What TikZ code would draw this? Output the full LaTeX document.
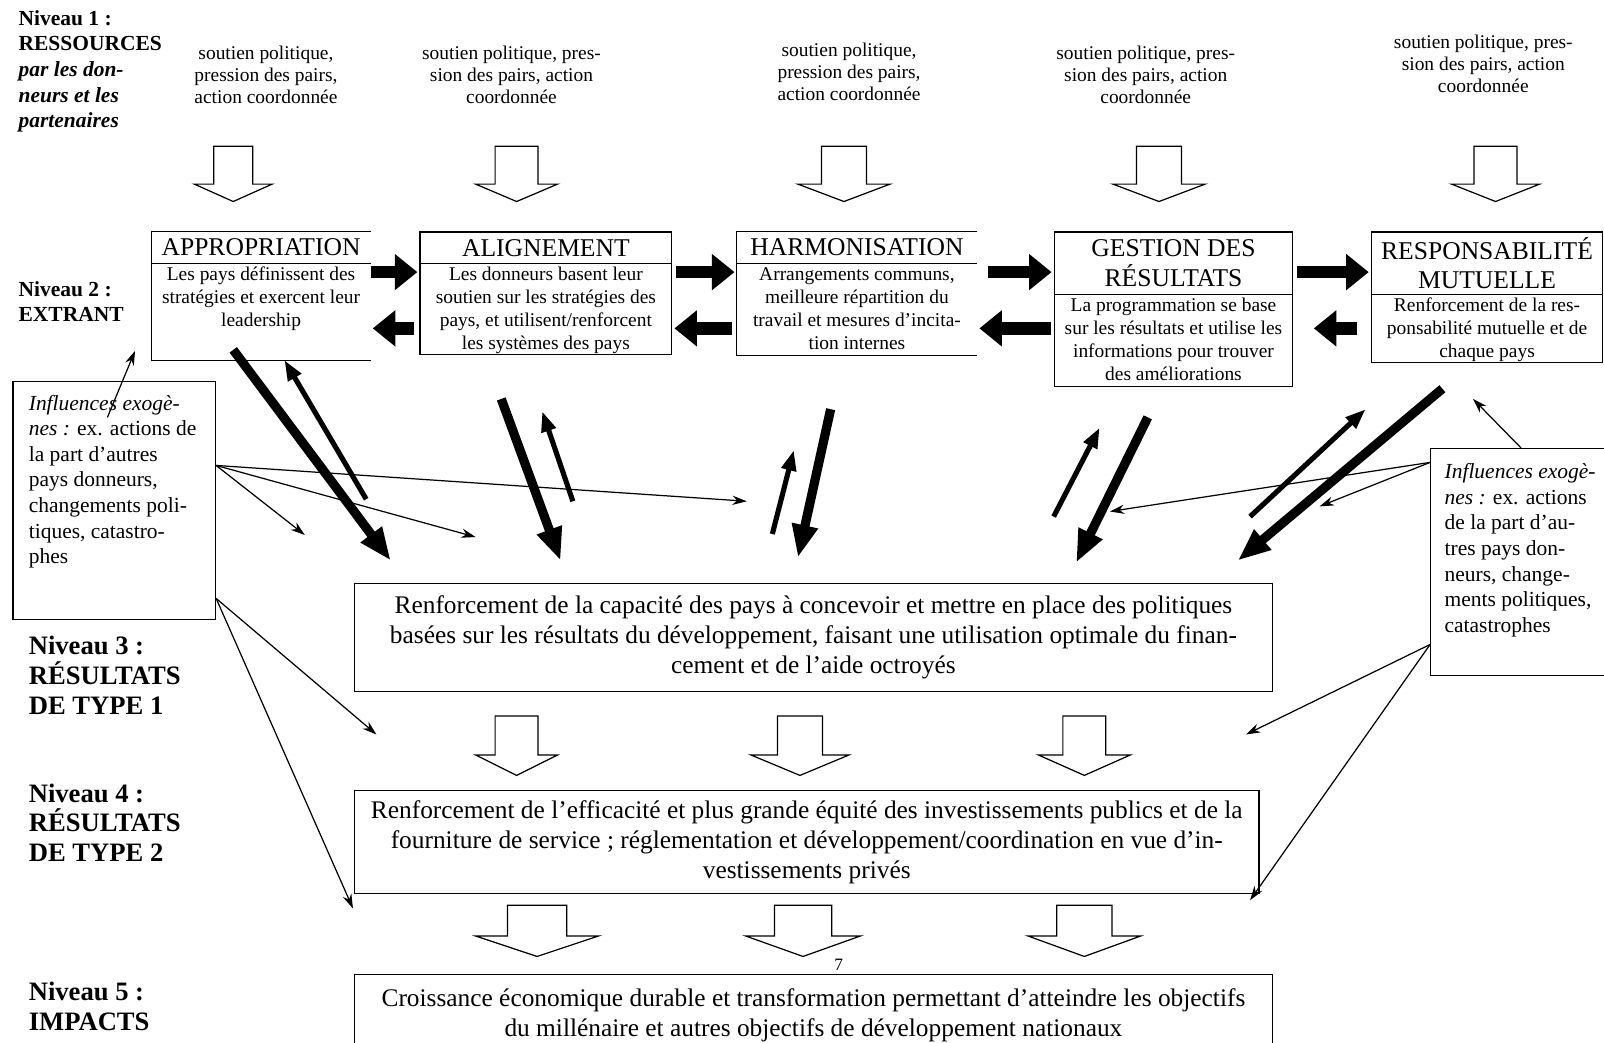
\documentclass[tikz,border=0pt]{standalone}
\usepackage{fontspec}
\setmainfont{Liberation Serif}
\usetikzlibrary{arrows.meta}

\begin{document}
\begin{tikzpicture}[x=1pt,y=-1pt,
  frame/.style={draw,line width=1.3pt,inner sep=0pt,anchor=north west},
  cadre/.style={inner sep=0pt,anchor=north west},
  hdr/.style={font=\fontsize{25}{29}\selectfont,align=center},
  corps/.style={font=\fontsize{19}{22.5}\selectfont,align=center,inner sep=0pt,anchor=north},
  soutien/.style={font=\fontsize{19}{21.5}\selectfont,align=center,inner sep=0pt},
  niveau/.style={font=\bfseries\fontsize{21}{25}\selectfont,align=left,inner sep=0pt,anchor=north west},
  grandniveau/.style={font=\bfseries\fontsize{26}{29}\selectfont,align=left,inner sep=0pt,anchor=north west},
  resultat/.style={font=\fontsize{24.8}{29.5}\selectfont,align=center},
  influ/.style={font=\fontsize{21}{25}\selectfont,align=left,inner sep=0pt,anchor=north west},
  creux/.style={draw,line width=1.2pt,fill=white},
  pleine/.style={line width=12pt,-{Triangle[length=22pt,width=34pt]}},
  epaisse/.style={line width=9pt,-{Triangle[length=32pt,width=24pt]}},
  mince/.style={line width=5pt,-{Triangle[length=20pt,width=14pt]}},
  fine/.style={line width=1.2pt,-{Stealth[length=14pt,width=9pt]}}]
\useasboundingbox (0,0) rectangle (1568,1019);

% niveaux
\node[niveau] (n1) at (18,10) {Niveau 1 :\\RESSOURCES\\\textit{par les don-}\\\textit{neurs et les}\\\textit{partenaires}};
\node[niveau] (n2) at (18,275) {Niveau 2 :\\EXTRANT};
\node[grandniveau] (n3) at (28,622) {Niveau 3 :\\RÉSULTATS\\DE TYPE 1};
\node[grandniveau] (n4) at (28,766) {Niveau 4 :\\RÉSULTATS\\DE TYPE 2};
\node[grandniveau] (n5) at (28,960) {Niveau 5 :\\IMPACTS};

% ressources
\node[soutien] (s1) at (260,73) {soutien politique,\\pression des pairs,\\action coordonnée};
\node[soutien] (s2) at (500,73) {soutien politique, pres-\\sion des pairs, action\\coordonnée};
\node[soutien] (s3) at (830,70) {soutien politique,\\pression des pairs,\\action coordonnée};
\node[soutien] (s4) at (1120,73) {soutien politique, pres-\\sion des pairs, action\\coordonnée};
\node[soutien] (s5) at (1450,62) {soutien politique, pres-\\sion des pairs, action\\coordonnée};

\foreach \cx/\sw/\hw/\ty/\hb/\tp in {228/19/38/143/180/197, 505/21/40/143/180/197,
    825/22/45/143/180/197, 1133/22/45/143/180/197, 1462/21/43/143/180/197,
    505/21/40/700/738/758, 782/22/48/700/738/758, 1060/21/45/700/738/758,
    525/29/60/885/915/935, 785/28/56/885/915/935, 1060/27/55/885/915/935}
  \draw[creux] (\cx-\sw,\ty) -- (\cx+\sw,\ty) -- (\cx+\sw,\hb) -- (\cx+\hw,\hb)
    -- (\cx,\tp) -- (\cx-\hw,\hb) -- (\cx-\sw,\hb) -- cycle;

% extrants
\node[cadre,hdr,minimum width=214pt,minimum height=31pt] (approH) at (148,226) {APPROPRIATION};
\node[cadre,minimum width=214pt,minimum height=95pt] (approB) at (148,257) {};
\draw[line width=1.3pt] (approH.north east) -- (approH.north west) -- (approB.south west) -- (approB.south east);
\draw[line width=1.3pt] (approH.south west) -- (approH.south east);
\node[corps] (approT) at ([yshift=-4pt]approB.north) {Les pays définissent des\\stratégies et exercent leur\\leadership};

\node[frame,hdr,minimum width=246pt,minimum height=31pt] (alignH) at (410,226) {ALIGNEMENT};
\node[frame,minimum width=246pt,minimum height=89pt] (alignB) at (410,257) {};
\node[corps] (alignT) at ([yshift=-4pt]alignB.north) {Les donneurs basent leur\\soutien sur les stratégies des\\pays, et utilisent/renforcent\\les systèmes des pays};

\node[cadre,hdr,minimum width=235pt,minimum height=31pt] (harmoH) at (720,226) {HARMONISATION};
\node[cadre,minimum width=235pt,minimum height=90pt] (harmoB) at (720,257) {};
\draw[line width=1.3pt] (harmoH.north east) -- (harmoH.north west) -- (harmoB.south west) -- (harmoB.south east);
\draw[line width=1.3pt] (harmoH.south west) -- (harmoH.south east);
\node[corps] (harmoT) at ([yshift=-4pt]harmoB.north) {Arrangements communs,\\meilleure répartition du\\travail et mesures d'incita-\\tion internes};

\node[frame,hdr,minimum width=233pt,minimum height=61pt] (gestH) at (1030,226) {GESTION DES\\RÉSULTATS};
\node[frame,minimum width=233pt,minimum height=90pt] (gestB) at (1030,287) {};
\node[corps] (gestT) at ([yshift=-4pt]gestB.north) {La programmation se base\\sur les résultats et utilise les\\informations pour trouver\\des améliorations};

\node[frame,hdr,minimum width=226pt,minimum height=61pt] (respH) at (1340,226) {RESPONSABILITÉ\\MUTUELLE};
\node[frame,minimum width=226pt,minimum height=67pt] (respB) at (1340,287) {};
\node[corps] (respT) at ([yshift=-4pt]respB.north) {Renforcement de la res-\\ponsabilité mutuelle et de\\chaque pays};

\draw[pleine,shorten >=2pt] (approB.east |- 0,266) -- (alignB.west |- 0,266);
\draw[pleine,shorten <=4pt,shorten >=2pt] (alignB.east |- 0,266) -- (harmoB.west |- 0,266);
\draw[pleine,shorten <=10pt,shorten >=2pt] (harmoB.east |- 0,266) -- (gestB.west |- 0,266);
\draw[pleine,shorten <=4pt,shorten >=2pt] (gestB.east |- 0,266) -- (respB.west |- 0,266);
\draw[pleine,shorten <=5pt,shorten >=2pt] (alignB.west |- 0,321) -- (approB.east |- 0,321);
\draw[pleine,shorten <=4pt,shorten >=2pt] (harmoB.west |- 0,321) -- (alignB.east |- 0,321);
\draw[pleine,shorten <=3pt,shorten >=2pt] (gestB.west |- 0,321) -- (harmoB.east |- 0,321);
\draw[pleine,shorten <=13pt,shorten >=20pt] (respB.west |- 0,321) -- (gestB.east |- 0,321);

% resultats et impacts
\node[frame,resultat,minimum width=897pt,minimum height=105pt] (res1) at (346,570) {Renforcement de la capacité des pays à concevoir et mettre en place des politiques\\basées sur les résultats du développement, faisant une utilisation optimale du finan-\\cement et de l'aide octroyés};
\node[frame,resultat,minimum width=884pt,minimum height=101pt] (res2) at (346,772) {Renforcement de l'efficacité et plus grande équité des investissements publics et de la\\fourniture de service ; réglementation et développement/coordination en vue d'in-\\vestissements privés};
\node[frame,resultat,minimum width=897pt,minimum height=80pt] (impact) at (346,952) {Croissance économique durable et transformation permettant d'atteindre les objectifs\\du millénaire et autres objectifs de développement nationaux};
\node[font=\fontsize{17}{20}\selectfont] (page) at (820,943) {7};

% influences exogenes
\node[frame,minimum width=198pt,minimum height=233pt] (inflL) at (12,372) {};
\node[influ] (inflLT) at (28,386) {\textit{Influences exogè-}\\\textit{nes :} ex. actions de\\la part d'autres\\pays donneurs,\\changements poli-\\tiques, catastro-\\phes};
\node[frame,minimum width=190pt,minimum height=222pt] (inflR) at (1398,438) {};
\node[influ] (inflRT) at (1412,453) {\textit{Influences exogè-}\\\textit{nes :} ex. actions\\de la part d'au-\\tres pays don-\\neurs, change-\\ments politiques,\\catastrophes};

% liens niveaux 2 et 3
\coordinate (a1) at (228,342); \coordinate (b1) at (382,548);
\coordinate (c1) at (358,488); \coordinate (d1) at (278,352);
\coordinate (a2) at (490,390); \coordinate (b2) at (548,548);
\coordinate (c2) at (560,490); \coordinate (d2) at (530,402);
\coordinate (a3) at (812,400); \coordinate (b3) at (780,545);
\coordinate (c3) at (755,522); \coordinate (d3) at (776,440);
\coordinate (a4) at (1122,408); \coordinate (b4) at (1052,550);
\coordinate (c4) at (1030,505); \coordinate (d4) at (1075,418);
\coordinate (a5) at (1410,380); \coordinate (b5) at (1210,548);
\coordinate (c5) at (1222,505); \coordinate (d5) at (1335,400);
\foreach \i in {1,...,5}{
  \draw[epaisse] (a\i) -- (b\i);
  \draw[mince] (c\i) -- (d\i);
}

% fleches fines
\coordinate (gh) at (105,408); \coordinate (gh2) at (132,343);
\coordinate (g1) at (730,490); \coordinate (g2) at (465,525); \coordinate (g3) at (298,523);
\coordinate (g4) at (368,718); \coordinate (g5) at (345,888);
\coordinate (dh) at (1487,438); \coordinate (dh2) at (1440,390);
\coordinate (r1) at (1085,500); \coordinate (r2) at (1290,495);
\coordinate (r3) at (1218,718); \coordinate (r4) at (1222,880);
\draw[fine] (gh) -- (gh2);
\draw[fine] (dh) -- (dh2);
\foreach \p in {g1,g2,g3} \draw[fine] (inflL.east |- 0,455) -- (\p);
\foreach \p in {g4,g5} \draw[fine] (inflL.east |- 0,585) -- (\p);
\foreach \p in {r1,r2} \draw[fine] (inflR.west |- 0,452) -- (\p);
\foreach \p in {r3,r4} \draw[fine] (inflR.west |- 0,630) -- (\p);
\end{tikzpicture}
\end{document}
